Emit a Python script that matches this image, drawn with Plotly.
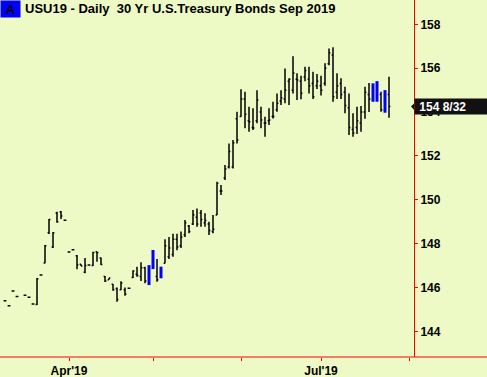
import plotly.graph_objects as go

# ---- data (bar index = trading day; Apr 1 2019 = 16) ----
bar_no = list(range(97))
opens = [145.40, 145.17, 145.84, 145.59, None, 145.65, 145.56, 145.25, 145.22, 146.57,
         147.12, 148.50, 147.85, 149.40, 149.45, 149.07, 147.62, 147.72, 147.45, 147.06,
         146.70, 147.02, 147.00, 147.63, 147.35, 146.50, 146.35, 146.15, 145.95, 145.90,
         145.90, 145.96, 146.45, 146.60, 146.50, 146.90, 146.20, 146.90, 146.50, 146.50,
         147.10, 147.40, 147.50, 148.20, 147.90, 148.40, 148.80, 148.90, 149.20, 149.40,
         148.95, 148.90, 148.55, 149.30, 150.40, 151.00, 151.50, 151.50, 153.70, 153.80,
         154.60, 153.60, 153.30, 153.60, 154.00, 153.50, 153.60, 153.80, 154.10, 154.50,
         154.60, 155.40, 155.00, 155.50, 155.40, 155.60, 155.50, 155.30, 155.20, 155.20,
         155.30, 156.20, 156.60, 154.90, 155.30, 154.90, 154.20, 153.20, 153.30, 153.50,
         154.00, 154.80, 155.20, 154.60, 154.80, 154.90, 154.80]
highs = [145.40, 145.17, 145.84, 145.59, None, 145.65, 145.56, 145.25, 146.43, 146.57,
         147.94, 149.12, 148.53, 149.45, 149.49, 149.07, 147.62, 147.72, 147.48, 147.06,
         147.34, 147.02, 147.63, 147.63, 147.37, 146.52, 146.43, 146.16, 146.00, 146.29,
         146.00, 145.96, 146.79, 146.94, 147.15, 146.95, 147.02, 147.71, 147.30, 146.95,
         148.20, 148.30, 148.45, 148.45, 148.55, 149.08, 148.85, 149.53, 149.60, 149.53,
         149.38, 149.00, 149.30, 150.82, 150.67, 151.58, 152.57, 152.72, 154.01, 155.04,
         154.93, 154.24, 154.17, 155.00, 154.24, 153.79, 154.17, 154.47, 154.85, 155.00,
         155.99, 155.54, 156.55, 155.77, 155.65, 156.07, 156.07, 155.84, 155.73, 155.65,
         156.22, 156.90, 156.95, 155.77, 155.54, 155.15, 154.85, 153.94, 154.24, 154.28,
         155.15, 155.32, 155.31, 155.41, 154.93, 155.00, 155.61]
lows = [145.40, 145.17, 145.84, 145.59, None, 145.65, 145.56, 145.25, 145.20, 146.57,
        147.10, 148.44, 147.80, 148.95, 149.12, 149.07, 147.62, 147.72, 146.83, 146.98,
        146.65, 147.02, 146.98, 147.17, 147.02, 146.25, 146.35, 145.85, 145.35, 145.88,
        145.62, 145.96, 146.43, 146.49, 146.30, 146.19, 146.11, 146.84, 146.26, 146.42,
        147.10, 147.30, 147.40, 147.70, 147.80, 148.30, 148.47, 148.85, 148.77, 148.77,
        148.77, 148.39, 148.47, 149.30, 150.22, 150.90, 151.43, 151.43, 152.57, 153.79,
        153.26, 153.10, 153.18, 153.49, 153.26, 152.87, 153.41, 153.71, 154.01, 154.32,
        154.40, 154.32, 154.85, 154.55, 154.58, 155.40, 154.85, 154.60, 155.05, 154.75,
        155.20, 156.14, 154.47, 154.60, 154.60, 153.94, 152.95, 152.87, 153.00, 153.10,
        153.70, 154.00, 154.47, 154.47, 154.01, 153.97, 153.74]
closes = [145.40, 145.17, 145.84, 145.59, None, 145.65, 145.56, 145.25, 146.40, 146.57,
          147.90, 149.10, 148.50, 149.00, 149.26, 149.07, 147.62, 147.72, 147.03, 146.98,
          147.00, 147.02, 147.60, 147.60, 147.05, 146.30, 146.43, 145.90, 145.45, 146.20,
          145.70, 145.96, 146.75, 146.55, 146.90, 146.30, 146.95, 147.60, 146.35, 146.60,
          147.90, 147.80, 148.20, 147.85, 148.30, 148.95, 148.55, 149.30, 148.90, 149.10,
          149.05, 148.60, 148.65, 150.75, 150.40, 151.40, 152.20, 152.60, 152.72, 154.60,
          153.90, 153.56, 153.27, 154.55, 153.64, 153.50, 153.64, 153.80, 154.40, 154.65,
          155.00, 155.50, 155.78, 155.46, 154.86, 155.90, 155.20, 154.70, 155.40, 155.00,
          156.00, 156.70, 154.70, 155.20, 154.80, 154.30, 153.30, 153.05, 153.60, 154.00,
          154.90, 154.60, 154.60, 155.30, 154.10, 154.10, 154.25]
highlight = [36, 37, 39, 92, 93, 95]

month_ticks = [16, 37, 59, 79, 101]
month_text = ["Apr'19", "", "", "Jul'19", ""]
price_ticks = [144, 146, 148, 150, 152, 154, 156, 158]
last_price = 154.25
last_label = "154 8/32"
title_text = "USU19 - Daily  30 Yr U.S.Treasury Bonds Sep 2019"

BG = "#EDFAC5"
RED = "#FF0000"

ox, oo, oh, ol, oc = [], [], [], [], []
bx, bb, bh = [], [], []
for i, o, h, l, c in zip(bar_no, opens, highs, lows, closes):
    if o is None:
        continue
    if i in highlight:
        bx.append(i); bb.append(l); bh.append(h - l)
    else:
        ox.append(i); oo.append(o); oh.append(h); ol.append(l); oc.append(c)

fig = go.Figure()
fig.add_trace(go.Ohlc(x=ox, open=oo, high=oh, low=ol, close=oc,
                      increasing=dict(line=dict(color="black", width=1.5)),
                      decreasing=dict(line=dict(color="black", width=1.5)),
                      tickwidth=0.35, hoverinfo="skip", showlegend=False))
fig.add_trace(go.Bar(x=bx, y=bh, base=bb, width=0.75,
                     marker=dict(color="#0000FF", line=dict(width=0)),
                     hoverinfo="skip", showlegend=False))

axfont = dict(family="Liberation Sans, Arial, sans-serif", size=12, color="black", weight="bold")

fig.update_layout(
    width=487, height=377,
    margin=dict(l=0, r=73, t=0, b=20),
    paper_bgcolor=BG, plot_bgcolor=BG,
    showlegend=False,
    xaxis=dict(range=[-1.25, 102.25], tickmode="array", tickvals=month_ticks, ticktext=month_text,
               ticks="outside", ticklen=3, tickcolor=RED, tickwidth=1,
               showgrid=False, zeroline=False, showline=False,
               rangeslider=dict(visible=False), tickfont=axfont, fixedrange=True),
    yaxis=dict(side="right", range=[142.83, 159.11], tickmode="array", tickvals=price_ticks,
               ticks="outside", ticklen=3, tickcolor=RED, tickwidth=1,
               showline=True, linecolor=RED, linewidth=1,
               showgrid=False, zeroline=False, tickfont=axfont, fixedrange=True),
)

# bottom axis line running full width
fig.add_shape(type="line", xref="paper", yref="paper", x0=0, x1=487 / 414, y0=0, y1=0,
              line=dict(color=RED, width=1))

# title + "A" tag
fig.add_annotation(xref="paper", yref="paper", x=0, y=1, xanchor="left", yanchor="top",
                   text="A", showarrow=False, bgcolor="#0000FF", width=19, height=16,
                   borderpad=0, font=dict(family="Liberation Sans, Arial", size=13, color="black", weight="bold"))
fig.add_annotation(xref="paper", yref="paper", x=0, y=1, xanchor="left", yanchor="top",
                   xshift=23, yshift=1, text=title_text, showarrow=False,
                   font=dict(family="Liberation Sans, Arial", size=13,
                             color="black", weight="bold"))

# last price marker
fig.add_shape(type="path", xref="paper", yref="y",
              path=f"M 1,{last_price + 0.14} L {1 - 3 / 414},{last_price} L 1,{last_price - 0.14} Z",
              fillcolor="#111111", line=dict(width=0))
fig.add_annotation(xref="paper", yref="y", x=1, y=last_price, xanchor="left", yanchor="middle",
                   text="\u00a0" + last_label, showarrow=False, bgcolor="#111111",
                   width=70, height=13, borderpad=1, align="left",
                   font=dict(family="Liberation Sans, Arial", size=12, color="white", weight="bold"))

fig.write_html("out.html", config={"displayModeBar": False, "staticPlot": True},
               post_script="document.body.style.margin='0';document.body.style.padding='0';")
